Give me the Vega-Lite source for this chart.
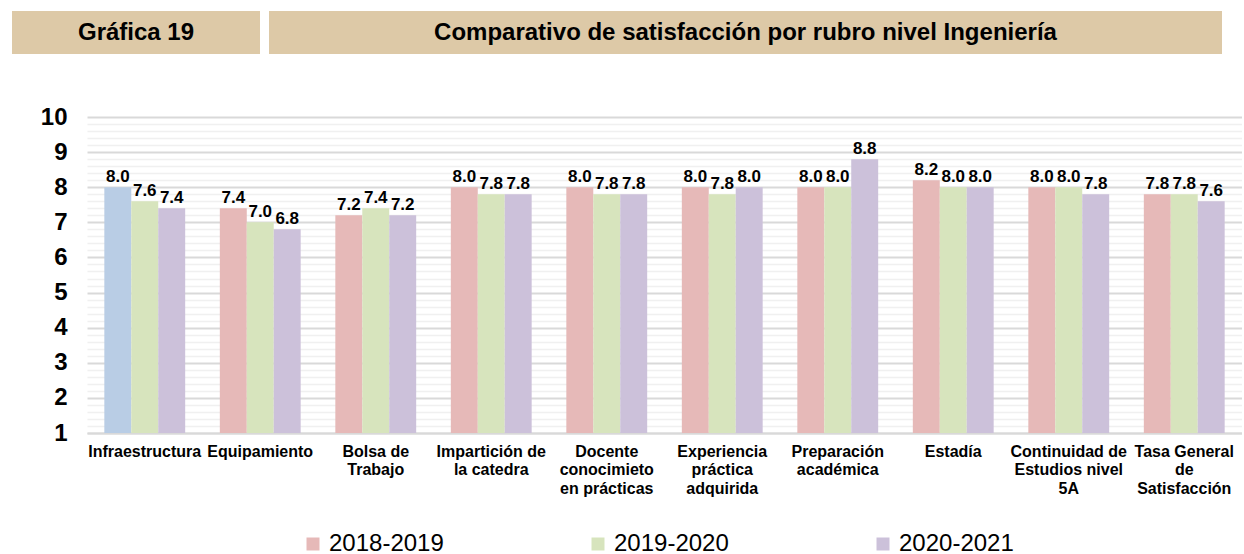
{
  "$schema": "https://vega.github.io/schema/vega-lite/v6.json",
  "padding": {"left": 12, "top": 11, "right": 0, "bottom": 0},
  "background": "white",
  "config": {
    "font": "Liberation Sans",
    "view": {"stroke": null}
  },
  "spacing": 51,
  "vconcat": [
    {
      "spacing": 9,
      "hconcat": [
        {
          "width": 248,
          "height": 43,
          "view": {"fill": "#ddc9a7", "stroke": null},
          "data": {"values": [{"t": "Gráfica 19"}]},
          "mark": {"type": "text", "fontSize": 24, "fontWeight": "bold", "color": "#000000", "font": "Liberation Sans"},
          "encoding": {"text": {"field": "t", "type": "nominal"}}
        },
        {
          "width": 953,
          "height": 43,
          "view": {"fill": "#ddc9a7", "stroke": null},
          "data": {"values": [{"t": "Comparativo de satisfacción por rubro nivel Ingeniería"}]},
          "mark": {"type": "text", "fontSize": 24, "fontWeight": "bold", "color": "#000000", "font": "Liberation Sans"},
          "encoding": {"text": {"field": "t", "type": "nominal"}}
        }
      ]
    },
    {
      "width": 1230,
      "height": 316,
      "data": {
        "values": [
          {"rubro": "Infraestructura", "periodo": "2018-2019", "valor": 8.0},
          {"rubro": "Infraestructura", "periodo": "2019-2020", "valor": 7.6},
          {"rubro": "Infraestructura", "periodo": "2020-2021", "valor": 7.4},
          {"rubro": "Equipamiento", "periodo": "2018-2019", "valor": 7.4},
          {"rubro": "Equipamiento", "periodo": "2019-2020", "valor": 7.0},
          {"rubro": "Equipamiento", "periodo": "2020-2021", "valor": 6.8},
          {"rubro": "Bolsa de\nTrabajo", "periodo": "2018-2019", "valor": 7.2},
          {"rubro": "Bolsa de\nTrabajo", "periodo": "2019-2020", "valor": 7.4},
          {"rubro": "Bolsa de\nTrabajo", "periodo": "2020-2021", "valor": 7.2},
          {"rubro": "Impartición de\nla catedra", "periodo": "2018-2019", "valor": 8.0},
          {"rubro": "Impartición de\nla catedra", "periodo": "2019-2020", "valor": 7.8},
          {"rubro": "Impartición de\nla catedra", "periodo": "2020-2021", "valor": 7.8},
          {"rubro": "Docente\nconocimieto\nen prácticas", "periodo": "2018-2019", "valor": 8.0},
          {"rubro": "Docente\nconocimieto\nen prácticas", "periodo": "2019-2020", "valor": 7.8},
          {"rubro": "Docente\nconocimieto\nen prácticas", "periodo": "2020-2021", "valor": 7.8},
          {"rubro": "Experiencia\npráctica\nadquirida", "periodo": "2018-2019", "valor": 8.0},
          {"rubro": "Experiencia\npráctica\nadquirida", "periodo": "2019-2020", "valor": 7.8},
          {"rubro": "Experiencia\npráctica\nadquirida", "periodo": "2020-2021", "valor": 8.0},
          {"rubro": "Preparación\nacadémica", "periodo": "2018-2019", "valor": 8.0},
          {"rubro": "Preparación\nacadémica", "periodo": "2019-2020", "valor": 8.0},
          {"rubro": "Preparación\nacadémica", "periodo": "2020-2021", "valor": 8.8},
          {"rubro": "Estadía", "periodo": "2018-2019", "valor": 8.2},
          {"rubro": "Estadía", "periodo": "2019-2020", "valor": 8.0},
          {"rubro": "Estadía", "periodo": "2020-2021", "valor": 8.0},
          {"rubro": "Continuidad de\nEstudios nivel\n5A", "periodo": "2018-2019", "valor": 8.0},
          {"rubro": "Continuidad de\nEstudios nivel\n5A", "periodo": "2019-2020", "valor": 8.0},
          {"rubro": "Continuidad de\nEstudios nivel\n5A", "periodo": "2020-2021", "valor": 7.8},
          {"rubro": "Tasa General\nde\nSatisfacción", "periodo": "2018-2019", "valor": 7.8},
          {"rubro": "Tasa General\nde\nSatisfacción", "periodo": "2019-2020", "valor": 7.8},
          {"rubro": "Tasa General\nde\nSatisfacción", "periodo": "2020-2021", "valor": 7.6}
        ]
      },
      "encoding": {
        "x": {
          "field": "rubro",
          "type": "nominal",
          "sort": null,
          "scale": {"paddingInner": 0.3, "paddingOuter": 0.15, "range": [75, 1230]},
          "axis": {
            "title": null,
            "labelAngle": 0,
            "labelExpr": "split(datum.label, '\\n')",
            "labelFontSize": 16,
            "labelFontWeight": "bold",
            "labelColor": "#000000",
            "labelLineHeight": 18.5,
            "labelBaseline": "top",
            "labelPadding": 10,
            "labelLimit": 0,
            "ticks": false,
            "domainColor": "#d9d9d9",
            "domainWidth": 2,
            "grid": false
          }
        },
        "xOffset": {"field": "periodo", "type": "nominal", "sort": ["2018-2019", "2019-2020", "2020-2021"]},
        "y": {
          "field": "valor",
          "type": "quantitative",
          "scale": {"domain": [1, 10], "nice": false, "zero": false},
          "axis": {
            "title": null,
            "offset": -75,
            "values": [1, 1.2, 1.4, 1.6, 1.8, 2, 2.2, 2.4, 2.6, 2.8, 3, 3.2, 3.4, 3.6, 3.8, 4, 4.2, 4.4, 4.6, 4.8, 5, 5.2, 5.4, 5.6, 5.8, 6, 6.2, 6.4, 6.6, 6.8, 7, 7.2, 7.4, 7.6, 7.8, 8, 8.2, 8.4, 8.6, 8.8, 9, 9.2, 9.4, 9.6, 9.8, 10],
            "labelExpr": "datum.value % 1 === 0 ? format(datum.value, 'd') : ''",
            "labelFontSize": 24,
            "labelFontWeight": "bold",
            "labelColor": "#000000",
            "labelPadding": 20,
            "ticks": false,
            "domain": false,
            "grid": true,
            "gridColor": {"condition": {"test": "datum.value % 1 === 0", "value": "#d9d9d9"}, "value": "#f0f0f0"},
            "gridWidth": {"condition": {"test": "datum.value % 1 === 0", "value": 2}, "value": 1.5}
          }
        }
      },
      "layer": [
        {
          "mark": {"type": "bar"},
          "encoding": {
            "y2": {"datum": 1},
            "color": {
              "condition": {"test": "datum.rubro === 'Infraestructura' && datum.periodo === '2018-2019'", "value": "#b9cde5"},
              "field": "periodo",
              "type": "nominal",
              "scale": {"domain": ["2018-2019", "2019-2020", "2020-2021"], "range": ["#e6b9b8", "#d7e4bd", "#ccc1da"]},
              "legend": {
                "title": null,
                "orient": "none",
                "legendX": 289,
                "legendY": 521,
                "direction": "horizontal",
                "symbolType": "square",
                "symbolSize": 169,
                "symbolStrokeWidth": 0,
                "labelFontSize": 24,
                "labelFont": "Liberation Sans",
                "labelColor": "#000000",
                "labelOffset": 4,
                "columnPadding": 142,
                "padding": 0
              }
            }
          }
        },
        {
          "mark": {"type": "text", "fontSize": 17, "fontWeight": "bold", "color": "#000000", "baseline": "bottom", "dy": -1},
          "encoding": {"text": {"field": "valor", "type": "quantitative", "format": ".1f"}}
        }
      ]
    }
  ]
}
